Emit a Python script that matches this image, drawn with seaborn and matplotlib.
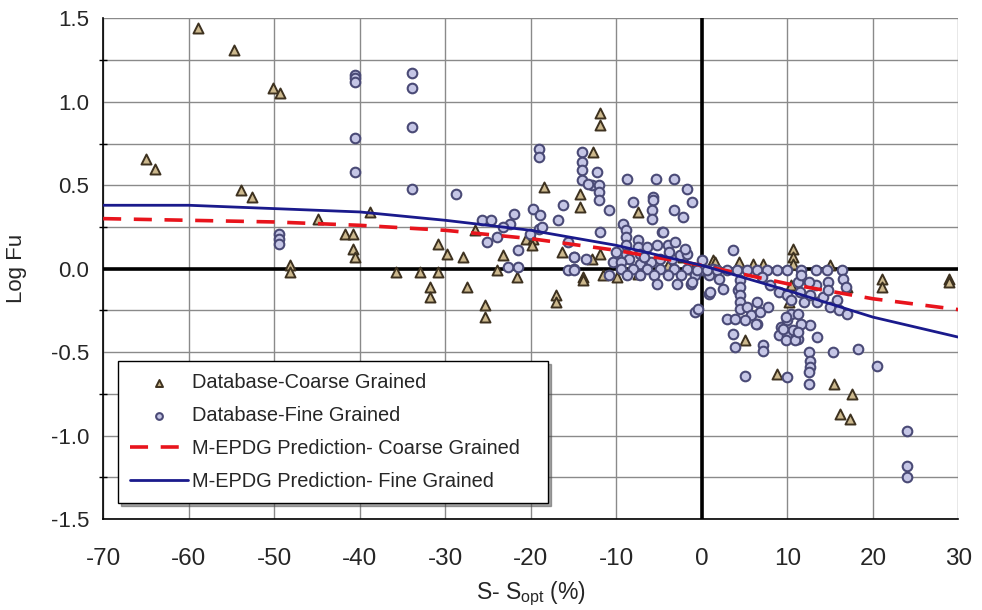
import matplotlib
matplotlib.use("Agg")
import matplotlib.pyplot as plt
import seaborn as sns
import pandas as pd
import numpy as np

# ---------------- data ----------------
coarse_x = [-58.9, -54.7, -50.1, -49.3, -65.0, -63.9, -53.9, -52.6, -44.9, -38.8,
            -41.7, -40.8, -40.8, -40.6, -48.1, -48.1, -35.7, -32.9, -30.9, -30.9,
            -29.8, -31.8, -31.8, -18.5, -27.9, -27.4, -25.3, -25.3, -26.5, -23.2,
            -24.0, -21.6, -20.6, -19.7, -19.8, -17.0, -17.0, -11.9, -11.9, -12.7,
            -14.3, -14.3, -7.5, -16.3, -13.9, -13.9, -11.5, -9.9, -7.5, -11.9,
            -2.2, -12.8, 1.3, 1.5, 4.3, 6.0, 7.1, 10.7, 10.7, 10.7,
            5.1, 8.8, 15.5, 17.0, 21.1, 21.1, 28.9, 28.9, 17.6, 16.1,
            17.3, 15.0, 10.4, 10.2, -4.0, -1.0]
coarse_y = [1.44, 1.31, 1.08, 1.05, 0.66, 0.60, 0.47, 0.43, 0.30, 0.34,
            0.21, 0.21, 0.12, 0.07, 0.02, -0.02, -0.02, -0.02, -0.02, 0.15,
            0.09, -0.11, -0.17, 0.49, 0.07, -0.11, -0.22, -0.29, 0.23, 0.08,
            -0.01, -0.05, 0.18, 0.18, 0.14, -0.16, -0.20, 0.93, 0.86, 0.70,
            0.45, 0.37, 0.34, 0.10, -0.05, -0.07, -0.04, -0.05, -0.03, 0.09,
            0.07, 0.06, 0.05, 0.04, 0.04, 0.03, 0.03, 0.12, 0.07, 0.03,
            -0.43, -0.63, -0.69, -0.11, -0.06, -0.11, -0.06, -0.08, -0.75, -0.87,
            -0.90, 0.02, -0.10, -0.20, 0.02, 0.0]

fine_x = [-40.5, -40.5, -40.5, -40.5, -40.5, -33.9, -33.9, -33.9, -33.9,
          -49.4, -49.4, -49.4, -28.7, -25.7, -24.7, -22.0, -22.4, -23.3, -23.9,
          -25.1, -21.5, -22.7, -21.5, -19.7, -18.9, -19.0, -20.1, -19.0, -19.0,
          -16.2, -16.8, -15.6, -15.0, -15.0, -14.0, -14.0, -14.0, -14.0, -12.8,
          -12.0, -12.0, -12.0, -12.2, -10.8, -8.7, -5.4, -3.3, -1.7, -1.1,
          -8.0, -5.7, -5.7, -5.8, -5.8, -3.3, -2.2, -11.9, -4.6, -0.8,
          -13.3, -18.7, -9.2, -8.9, -8.9, -8.9, -8.9, -7.5, -7.5, -7.2,
          -6.4, -5.2, -4.5, -4.0, -3.1, -8.5, -7.2, -6.0, -4.9, -3.5,
          -2.6, -1.7, -10.4, -9.5, -9.5, -8.0, -6.4, -4.9, -3.3, -1.7,
          -0.2, 1.3, -10.8, -8.8, -7.2, -5.6, -4.0, -2.4, -0.8, 0.8,
          -15.0, -13.6, -15.7, -15.0, -5.2, -2.9, -1.3, 0.8, -0.5,
          3.6, 0.0, 0.0, -0.6, 0.6, 1.8, 2.9, 4.1, 5.3, 6.4,
          7.6, 8.8, 9.9, 11.6, 13.4, 14.6, 16.4, -1.1, 1.0, 2.5,
          4.2, 4.5, 4.5, 4.5, 4.5, 4.5, 5.3, 5.7, 6.5, 6.8,
          6.5, 7.7, 3.0, 3.9, 3.7, 3.9, 5.1, 6.3, 7.1, 7.1,
          5.1, 10.0, 9.2, 9.0, 10.0, 10.7, 11.2, 10.0, 10.4, 9.0,
          10.0, 10.4, 11.5, 11.9, 12.7, 13.3, 13.5, 14.2, 15.0, 16.0,
          11.3, 12.5, 11.6, 12.7, 13.5, 12.5, 12.7, 12.7, 12.5, 12.5,
          15.3, 14.7, 14.8, 15.8, 16.5, 16.8, 17.0, 18.3, 20.5, 24.0,
          24.0, 24.0, 9.8, 9.5, 9.8, 10.9, 11.3, 11.6, 11.3, 8.0,
          7.0, 2.0, -10.0, -6.8, -3.8, -2.0]
fine_y = [1.16, 1.14, 1.12, 0.78, 0.58, 1.17, 1.08, 0.85, 0.48,
          0.21, 0.18, 0.15, 0.45, 0.29, 0.29, 0.33, 0.27, 0.25, 0.19,
          0.16, 0.11, 0.01, 0.01, 0.36, 0.32, 0.24, 0.21, 0.72, 0.67,
          0.38, 0.29, 0.16, 0.07, 0.00, 0.70, 0.64, 0.59, 0.53, 0.50,
          0.50, 0.46, 0.41, 0.58, 0.35, 0.54, 0.54, 0.54, 0.48, 0.40,
          0.40, 0.43, 0.41, 0.35, 0.30, 0.35, 0.31, 0.22, 0.22, -0.26,
          0.51, 0.25, 0.27, 0.23, 0.19, 0.14, 0.09, 0.17, 0.13, 0.09,
          0.13, 0.14, 0.22, 0.14, 0.16, 0.06, 0.03, 0.04, 0.06, 0.06,
          0.08, 0.09, 0.04, 0.04, 0.00, 0.00, 0.00, 0.00, 0.00, 0.00,
          0.00, 0.00, -0.04, -0.04, -0.04, -0.04, -0.04, -0.04, -0.04, -0.04,
          0.07, 0.06, -0.01, -0.01, -0.09, -0.09, -0.09, -0.15, -0.24,
          0.11, 0.05, -0.01, -0.01, -0.01, -0.01, -0.01, -0.01, -0.01, -0.01,
          -0.01, -0.01, -0.01, -0.01, -0.01, -0.01, -0.01, -0.08, -0.14, -0.12,
          -0.13, -0.07, -0.11, -0.16, -0.20, -0.24, -0.23, -0.28, -0.20, -0.26,
          -0.33, -0.23, -0.30, -0.30, -0.39, -0.47, -0.31, -0.33, -0.46, -0.49,
          -0.64, -0.65, -0.35, -0.40, -0.40, -0.37, -0.42, -0.31, -0.27, -0.14,
          -0.16, -0.19, -0.14, -0.20, -0.16, -0.10, -0.20, -0.17, -0.23, -0.25,
          -0.08, -0.08, -0.04, -0.34, -0.41, -0.50, -0.55, -0.59, -0.62, -0.69,
          -0.50, -0.08, -0.13, -0.19, -0.06, -0.11, -0.27, -0.48, -0.58, -0.97,
          -1.18, -1.25, -0.29, -0.36, -0.43, -0.43, -0.27, -0.33, -0.38, -0.10,
          -0.05, -0.06, 0.10, 0.07, 0.10, 0.12]

pred_x = [-70, -60, -50, -40, -30, -20, -10, 0, 10, 20, 30]
pred_coarse = [0.30, 0.29, 0.28, 0.26, 0.23, 0.18, 0.11, 0.02, -0.09, -0.18, -0.245]
pred_fine = [0.38, 0.38, 0.36, 0.34, 0.29, 0.23, 0.14, 0.02, -0.13, -0.29, -0.41]

x_ticks = [-70, -60, -50, -40, -30, -20, -10, 0, 10, 20, 30]
y_ticks = [-1.5, -1.0, -0.5, 0.0, 0.5, 1.0, 1.5]
y_tick_labels = ["-1.5", "-1.0", "-0.5", "0.0", "0.5", "1.0", "1.5"]

labels = ["Database-Coarse Grained", "Database-Fine Grained",
          "M-EPDG Prediction- Coarse Grained", "M-EPDG Prediction- Fine Grained"]

# ---------------- fonts ----------------
sns.set_style("white")
fam = ["Liberation Sans", "DejaVu Sans"]
plt.rcParams['font.family'] = fam
plt.rcParams['mathtext.fontset'] = 'custom'
plt.rcParams['mathtext.rm'] = fam[0]

fig = plt.figure(figsize=(9.82, 6.10), dpi=100)
ax = fig.add_axes([0.105, 0.149, 0.871, 0.821])

coarse_df = pd.DataFrame({"x": coarse_x, "y": coarse_y})
fine_df = pd.DataFrame({"x": fine_x, "y": fine_y})
pred_df = pd.DataFrame({"x": pred_x, "coarse": pred_coarse, "fine": pred_fine})

# grid
ax.set_yticks(np.arange(-1.5, 1.51, 0.25), minor=True)
ax.grid(True, which='major', axis='x', color='#8a8a8a', lw=1.0, zorder=0)
ax.grid(True, which='minor', axis='y', color='#8a8a8a', lw=1.0, zorder=0)
ax.grid(True, which='major', axis='y', color='#8a8a8a', lw=1.0, zorder=0)
ax.set_axisbelow(True)

ax.axhline(0, color='black', lw=2.6, zorder=1)
ax.axvline(0, color='black', lw=2.6, zorder=1)

sns.scatterplot(data=coarse_df, x="x", y="y", marker="^", s=52,
                facecolor='#cdb98e', edgecolor='#3e3220', linewidth=1.4,
                ax=ax, zorder=3, label=labels[0])
sns.scatterplot(data=fine_df, x="x", y="y", marker="o", s=48,
                facecolor='#c5c6e6', edgecolor='#4a4a76', linewidth=1.5,
                ax=ax, zorder=3, label=labels[1])
sns.lineplot(data=pred_df, x="x", y="coarse", color='#e8141c', lw=2.6,
             ax=ax, zorder=4, label=labels[2])
ax.lines[-1].set_linestyle((0, (5, 3.5)))
sns.lineplot(data=pred_df, x="x", y="fine", color='#1a1a8c', lw=2.0,
             ax=ax, zorder=4, label=labels[3])

ax.set_xlim(-70, 30)
ax.set_ylim(-1.5, 1.5)
ax.set_xticks(x_ticks)
ax.set_xticklabels([str(t) for t in x_ticks], fontsize=17.5)
ax.set_yticks(y_ticks)
ax.set_yticklabels(y_tick_labels, fontsize=16)
ax.tick_params(axis='x', which='major', direction='inout', length=8,
               width=1.0, color='black', pad=17)
ax.tick_params(axis='y', which='major', direction='inout', length=8,
               width=1.0, color='black', pad=6)
ax.tick_params(axis='y', which='minor', direction='inout', length=6,
               width=1.0, color='black', left=True)

for side in ['top', 'right']:
    ax.spines[side].set_visible(False)
ax.spines['left'].set_color('black')
ax.spines['left'].set_linewidth(1.2)
ax.spines['bottom'].set_color('black')
ax.spines['bottom'].set_linewidth(1.2)

ax.set_xlabel(r"S- S$_{\mathrm{opt}}$ (%)", fontsize=16.5, labelpad=7)
ax.set_ylabel("Log Fu", fontsize=16, labelpad=17)

leg = ax.legend(loc='lower left', bbox_to_anchor=(0.0175, 0.032, 0.503, 0.29),
                mode='expand', frameon=True, fancybox=False, shadow=True,
                fontsize=14.4, markerscale=0.7, handlelength=2.9,
                borderpad=0.6, labelspacing=0.7, handletextpad=0.2,
                borderaxespad=0)
leg.get_frame().set_edgecolor('black')
leg.get_frame().set_linewidth(1.0)

fig.savefig("out.png", dpi=100)
